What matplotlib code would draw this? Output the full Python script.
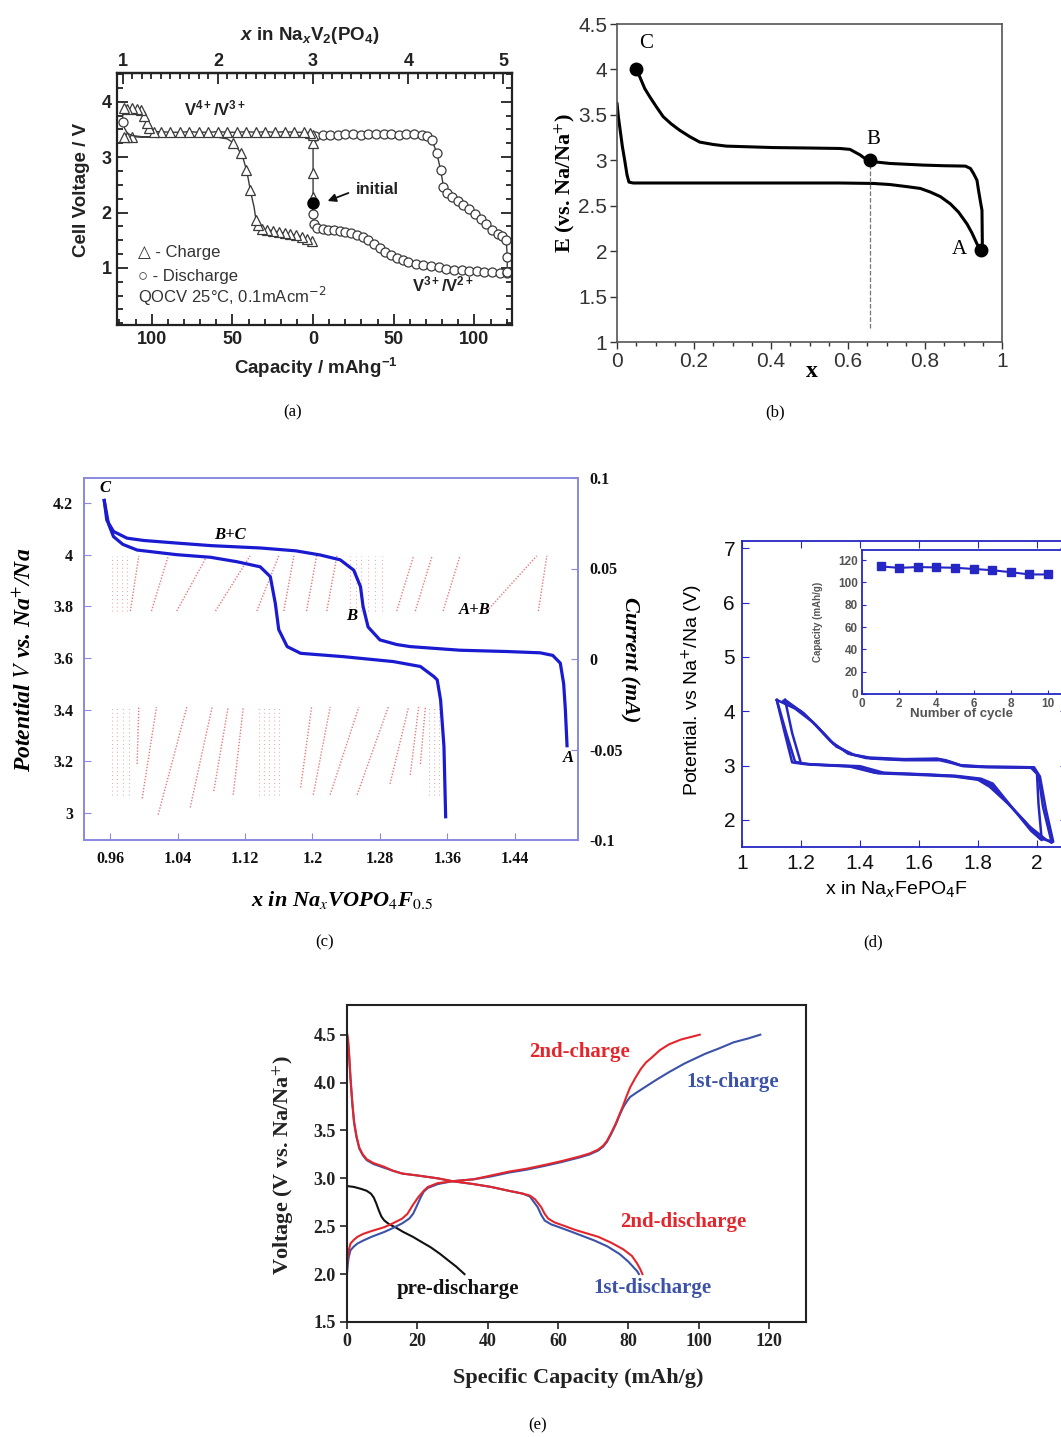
import numpy as np
import matplotlib.pyplot as plt
from matplotlib.ticker import MultipleLocator, FixedLocator

W, H = 1061, 1437
SANS = 'Liberation Sans'
SERIF = 'Liberation Serif'

plt.rcParams['font.family'] = SANS
plt.rcParams['mathtext.fontset'] = 'custom'
plt.rcParams['mathtext.rm'] = 'Liberation Sans:bold'
plt.rcParams['mathtext.it'] = 'Liberation Sans:italic:bold'
plt.rcParams['mathtext.bf'] = 'Liberation Sans:bold'

# ---------------- (a) NaxV2(PO4)3, x = Na content
a_chg1_x = [3.00, 3.00, 3.00, 3.00, 2.97, 2.90, 2.80, 2.70, 2.60, 2.50, 2.40, 2.30, 2.20, 2.10, 2.00,
            1.90, 1.80, 1.70, 1.60, 1.50, 1.40, 1.33, 1.28, 1.25, 1.22, 1.19, 1.15, 1.10, 1.05, 1.01]
a_chg1_v = [2.29, 2.71, 3.25, 3.40, 3.44, 3.45, 3.45, 3.46, 3.45, 3.46, 3.45, 3.46, 3.45, 3.45, 3.46,
            3.45, 3.45, 3.46, 3.45, 3.45, 3.46, 3.46, 3.52, 3.62, 3.75, 3.85, 3.87, 3.88, 3.87, 3.88]
a_dis1_x = [1.00, 1.00, 1.02, 1.05, 1.10, 1.20, 1.40, 1.60, 1.80, 2.00, 2.20, 2.40, 2.60, 2.80, 2.95,
            3.02, 3.10, 3.18, 3.26, 3.34, 3.42, 3.50, 3.58, 3.66, 3.74, 3.82, 3.90, 3.98, 4.06, 4.14,
            4.20, 4.25, 4.30, 4.34, 4.37, 4.41, 4.46, 4.52, 4.58, 4.64, 4.70, 4.76, 4.82, 4.88, 4.94,
            4.99, 5.03, 5.04, 5.04]
a_dis1_v = [3.88, 3.64, 3.52, 3.43, 3.39, 3.37, 3.37, 3.37, 3.37, 3.37, 3.37, 3.37, 3.37, 3.38, 3.38,
            3.39, 3.40, 3.40, 3.40, 3.41, 3.41, 3.40, 3.41, 3.41, 3.41, 3.41, 3.40, 3.41, 3.41, 3.40,
            3.38, 3.31, 3.07, 2.77, 2.47, 2.36, 2.28, 2.20, 2.13, 2.06, 1.98, 1.89, 1.79, 1.69, 1.62,
            1.58, 1.50, 1.20, 0.92]
a_dis2_x = [3.00, 3.00, 3.01, 3.04, 3.10, 3.16, 3.22, 3.28, 3.34, 3.40, 3.46, 3.52, 3.58, 3.64, 3.70,
            3.76, 3.82, 3.88, 3.94, 4.00, 4.08, 4.16, 4.24, 4.32, 4.40, 4.48, 4.56, 4.64, 4.72, 4.80,
            4.88, 4.96, 5.04]
a_dis2_v = [2.18, 1.98, 1.80, 1.72, 1.70, 1.69, 1.68, 1.67, 1.65, 1.63, 1.60, 1.56, 1.50, 1.43, 1.36,
            1.29, 1.23, 1.18, 1.14, 1.11, 1.07, 1.05, 1.03, 1.01, 0.99, 0.97, 0.96, 0.95, 0.94, 0.93,
            0.92, 0.91, 0.91]
a_chg2_x = [3.00, 2.99, 2.94, 2.88, 2.82, 2.76, 2.70, 2.64, 2.58, 2.52, 2.46, 2.42, 2.40, 2.38, 2.36,
            2.34, 2.32, 2.30, 2.27, 2.24, 2.20, 2.16, 2.10, 2.00, 1.80, 1.60, 1.40, 1.20, 1.10, 1.05, 1.01]
a_chg2_v = [1.45, 1.48, 1.52, 1.56, 1.59, 1.61, 1.63, 1.65, 1.67, 1.69, 1.71, 1.78, 1.87, 2.10, 2.25,
            2.41, 2.60, 2.77, 2.95, 3.07, 3.18, 3.26, 3.33, 3.36, 3.36, 3.36, 3.36, 3.36, 3.37, 3.37, 3.37]
a_init_x = [3.0]
a_init_v = [2.18]
a_cap_ticks = [100, 50, 0, 50, 100]
a_cap_side = [-1, -1, 0, 1, 1]
a_cap_per_x = 59.0

# ---------------- (b)
b_chg_x = [0.949, 0.948, 0.945, 0.939, 0.935, 0.926, 0.918, 0.905, 0.850, 0.796, 0.709, 0.675, 0.657,
           0.644, 0.631, 0.618, 0.605, 0.579, 0.500, 0.406, 0.284, 0.250, 0.215, 0.189, 0.163, 0.141,
           0.120, 0.102, 0.085, 0.072, 0.059, 0.050]
b_chg_v = [2.05, 2.45, 2.52, 2.67, 2.78, 2.855, 2.91, 2.936, 2.94, 2.947, 2.965, 2.98, 3.00,
           3.02, 3.06, 3.09, 3.12, 3.13, 3.135, 3.14, 3.156, 3.174, 3.20, 3.26, 3.33, 3.40,
           3.48, 3.59, 3.70, 3.79, 3.92, 4.00]
b_dis_x = [0.0, 0.0035, 0.007, 0.014, 0.020, 0.026, 0.031, 0.042, 0.300, 0.579, 0.666, 0.709, 0.753,
           0.788, 0.814, 0.840, 0.866, 0.887, 0.909, 0.922, 0.935, 0.945]
b_dis_v = [3.63, 3.48, 3.37, 3.15, 3.00, 2.84, 2.76, 2.75, 2.75, 2.75, 2.745, 2.733, 2.71,
           2.69, 2.65, 2.60, 2.52, 2.43, 2.30, 2.20, 2.08, 2.01]
b_pt_x = [0.945, 0.657, 0.050]
b_pt_v = [2.01, 3.00, 4.00]
b_dash_bottom = 1.15

# ---------------- (c)
c_up_x = [0.953, 0.956, 0.964, 0.980, 1.000, 1.039, 1.080, 1.138, 1.180, 1.209, 1.233, 1.249, 1.257,
          1.260, 1.266, 1.280, 1.300, 1.316, 1.375, 1.430, 1.470, 1.485, 1.494, 1.498, 1.500, 1.502]
c_up_v = [4.21, 4.134, 4.09, 4.064, 4.055, 4.045, 4.035, 4.026, 4.015, 3.999, 3.98, 3.94, 3.876,
          3.80, 3.72, 3.67, 3.652, 3.644, 3.63, 3.625, 3.62, 3.61, 3.58, 3.50, 3.40, 3.26]
c_lo_x = [0.953, 0.958, 0.964, 0.975, 0.992, 1.039, 1.079, 1.110, 1.138, 1.150, 1.156, 1.160, 1.170,
          1.186, 1.237, 1.296, 1.328, 1.344, 1.348, 1.352, 1.356, 1.358]
c_lo_v = [4.21, 4.12, 4.07, 4.04, 4.018, 4.0, 3.99, 3.973, 3.953, 3.915, 3.81, 3.71, 3.644,
          3.618, 3.605, 3.586, 3.567, 3.528, 3.515, 3.437, 3.257, 2.985]
# current transients (mA), start/end x of each relaxation
c_pos_x0 = [0.984, 1.009, 1.039, 1.085, 1.134, 1.166, 1.193, 1.217, 1.300, 1.322, 1.355, 1.407, 1.468]
c_pos_x1 = [0.994, 1.029, 1.075, 1.126, 1.160, 1.178, 1.205, 1.229, 1.320, 1.342, 1.375, 1.466, 1.478]
c_pos_i0 = 0.0265
c_pos_i1 = 0.057
c_neg_x0 = [0.992, 0.998, 1.017, 1.055, 1.083, 1.106, 1.186, 1.201, 1.221, 1.253, 1.292, 1.316, 1.328]
c_neg_x1 = [0.994, 1.015, 1.051, 1.081, 1.100, 1.118, 1.199, 1.221, 1.255, 1.290, 1.314, 1.326, 1.334]
c_neg_i0 = [-0.058, -0.077, -0.086, -0.082, -0.073, -0.075, -0.071, -0.075, -0.075, -0.075, -0.069,
            -0.064, -0.058]
c_neg_i1 = -0.0265
c_vert_pos = [0.962, 0.968, 0.974, 0.980, 1.245, 1.252, 1.258, 1.266, 1.274, 1.282]
c_vert_neg = [0.962, 0.968, 0.975, 0.982, 1.136, 1.142, 1.148, 1.154, 1.160, 1.338, 1.344, 1.350]
c_xticks = [0.96, 1.04, 1.12, 1.2, 1.28, 1.36, 1.44]
c_yticks = [3.0, 3.2, 3.4, 3.6, 3.8, 4.0, 4.2]
c_iticks = [-0.1, -0.05, 0, 0.05, 0.1]

# ---------------- (d)
d_loops_x = [
    [1.118, 1.15, 1.18, 1.23, 1.38, 1.46, 1.60, 1.72, 1.80, 1.84, 1.90, 1.96, 2.01, 2.055,
     2.03, 2.01, 1.99, 1.83, 1.74, 1.69, 1.66, 1.55, 1.43, 1.38, 1.32, 1.26, 1.21, 1.146],
    [1.146, 1.17, 1.20, 1.25, 1.40, 1.48, 1.62, 1.73, 1.81, 1.85, 1.92, 1.98, 2.016,
     2.005, 2.0, 1.98, 1.83, 1.75, 1.71, 1.67, 1.55, 1.44, 1.36, 1.30, 1.24, 1.18, 1.118],
    [1.118, 1.145, 1.17, 1.21, 1.36, 1.45, 1.60, 1.72, 1.80, 1.845, 1.91, 1.97, 2.03, 2.05,
     2.02, 2.005, 1.985, 1.82, 1.745, 1.70, 1.665, 1.54, 1.42, 1.37, 1.31, 1.25, 1.20, 1.14]]
d_loops_v = [
    [4.21, 3.60, 3.07, 3.02, 2.98, 2.86, 2.83, 2.80, 2.74, 2.61, 2.31, 1.97, 1.66, 1.60,
     2.20, 2.80, 2.97, 2.98, 3.01, 3.10, 3.13, 3.12, 3.15, 3.20, 3.35, 3.69, 3.96, 4.21],
    [4.21, 3.60, 3.04, 3.02, 2.99, 2.87, 2.84, 2.81, 2.76, 2.67, 2.20, 1.80, 1.63,
     2.30, 2.85, 2.96, 2.97, 2.99, 3.05, 3.10, 3.10, 3.13, 3.22, 3.45, 3.80, 4.05, 4.21],
    [4.20, 3.60, 3.06, 3.03, 2.99, 2.87, 2.84, 2.81, 2.75, 2.64, 2.26, 1.90, 1.64, 1.58,
     2.25, 2.82, 2.97, 2.98, 3.00, 3.08, 3.12, 3.11, 3.14, 3.21, 3.40, 3.75, 4.00, 4.19]]
d_cycle = [1, 2, 3, 4, 5, 6, 7, 8, 9, 10]
d_capacity = [114.3, 113.0, 113.7, 113.4, 113.1, 112.0, 110.9, 109.1, 107.1, 107.1]

# ---------------- (e)
e_pre_x = [0, 2, 4, 5.6, 6.8, 7.6, 8.3, 9.1, 9.8, 10.6, 12, 13.7, 16, 18.7, 21, 23.8, 26.5, 28.9, 31, 33.4]
e_pre_v = [2.92, 2.91, 2.89, 2.87, 2.84, 2.80, 2.74, 2.66, 2.60, 2.56, 2.52, 2.49, 2.44, 2.39, 2.34,
           2.28, 2.21, 2.14, 2.08, 2.0]
e_dis2_x = [0, 0.3, 0.6, 1, 1.5, 2, 2.7, 3.5, 4.5, 5.6, 7.5, 10.6, 13, 15.7, 20, 25.8, 30, 36, 41, 46,
            50, 52, 53.5, 55.2, 56.2, 57.2, 59, 61.3, 65, 71.4, 75, 78.5, 81, 82.5, 83.4, 84]
e_dis2_v = [4.52, 4.45, 4.30, 4.05, 3.80, 3.60, 3.44, 3.32, 3.25, 3.20, 3.16, 3.12, 3.08, 3.05, 3.03,
            3.00, 2.97, 2.94, 2.91, 2.87, 2.84, 2.82, 2.78, 2.70, 2.63, 2.58, 2.54, 2.51, 2.46, 2.39,
            2.33, 2.26, 2.19, 2.11, 2.05, 2.0]
e_dis1_x = [0, 0.3, 0.6, 1, 1.5, 2, 2.7, 3.5, 4.5, 5.6, 7.5, 10.6, 13, 15.7, 20, 25.8, 30, 36, 41, 46,
            50, 52, 53, 54.2, 55.2, 56.2, 58, 60.3, 64, 70.4, 74, 77.5, 80, 81.5, 82.5, 83]
e_dis1_v = [4.50, 4.43, 4.28, 4.03, 3.78, 3.58, 3.43, 3.31, 3.24, 3.19, 3.15, 3.11, 3.08, 3.05, 3.03,
            3.00, 2.97, 2.94, 2.91, 2.87, 2.84, 2.81, 2.76, 2.70, 2.62, 2.56, 2.52, 2.49, 2.44, 2.35,
            2.29, 2.21, 2.13, 2.07, 2.03, 2.0]
e_chg1_x = [0, 0.2, 0.5, 1, 2, 3, 4.6, 7, 10.6, 13, 15.7, 17.7, 18.8, 19.7, 20.8, 21.8, 23, 25.8, 30,
            36, 41, 46, 51, 56.2, 61, 66.3, 69, 71.4, 72.8, 73.9, 75.2, 76.5, 77.5, 78.5, 79.5, 80.5,
            82.5, 84.6, 88, 91.6, 96, 101.8, 106, 109.9, 114, 117.5]
e_chg1_v = [2.0, 2.1, 2.18, 2.25, 2.29, 2.32, 2.35, 2.39, 2.44, 2.48, 2.53, 2.58, 2.63, 2.70, 2.79,
            2.86, 2.90, 2.94, 2.97, 2.99, 3.02, 3.06, 3.09, 3.13, 3.17, 3.22, 3.25, 3.29, 3.33, 3.38,
            3.47, 3.57, 3.66, 3.74, 3.80, 3.85, 3.90, 3.95, 4.03, 4.11, 4.20, 4.30, 4.36, 4.42, 4.46, 4.50]
e_chg2_x = [0, 0.2, 0.5, 1, 2, 3, 4.6, 7, 10.6, 13, 15.7, 17.2, 18.7, 20.2, 21.8, 23, 25.8, 30, 36,
            41, 46, 51, 56.2, 61, 66.3, 69, 71.4, 72.8, 73.9, 75.2, 76.5, 77.5, 78.5, 79.5, 80.5, 82,
            83.5, 85, 86.6, 89, 91.6, 95, 100.3]
e_chg2_v = [2.05, 2.17, 2.25, 2.32, 2.36, 2.39, 2.42, 2.45, 2.49, 2.53, 2.58, 2.63, 2.72, 2.80, 2.87,
            2.91, 2.95, 2.97, 2.99, 3.03, 3.07, 3.10, 3.14, 3.18, 3.23, 3.26, 3.30, 3.34, 3.39, 3.48,
            3.58, 3.67, 3.76, 3.86, 3.95, 4.05, 4.14, 4.21, 4.26, 4.34, 4.40, 4.45, 4.50]

fig = plt.figure(figsize=(W / 100, H / 100), dpi=100)


def box(l, r, t, b):
    return fig.add_axes([l / W, 1 - b / H, (r - l) / W, (b - t) / H])


def ftext(px, py, s, **kw):
    kw.setdefault('ha', 'center')
    kw.setdefault('va', 'center')
    return fig.text(px / W, 1 - py / H, s, **kw)


# ======================= (a)
ax = box(117, 512, 73, 325)
ax.set_xlim(0.94, 5.09)
ax.set_ylim(-0.03, 4.52)
g = '#3a3a3a'
mk = dict(mfc='white', mec=g, ms=6.5, mew=0.9)
ax.plot(a_chg2_x, a_chg2_v, '-', color=g, lw=1.0, marker='^',
        markevery=list(range(1, 13)) + [15, 17, 19, 21, 28, 29, 30], **mk)
ax.plot(a_dis2_x, a_dis2_v, '-', color=g, lw=1.0, marker='o', markevery=list(range(1, len(a_dis2_x))), **mk)
ax.plot(a_dis1_x, a_dis1_v, '-', color=g, lw=1.0, marker='o', markevery=[1] + list(range(15, len(a_dis1_x))), **mk)
ax.plot(a_chg1_x, a_chg1_v, '-', color=g, lw=1.0, marker='^', **mk)
ax.plot(a_init_x, a_init_v, 'o', color='black', ms=8)

pos = [3 + s * c / a_cap_per_x for c, s in zip(a_cap_ticks, a_cap_side)]
ax.set_xticks(pos, labels=[str(c) for c in a_cap_ticks], fontweight='bold', fontsize=13)
minor = [3 - c / a_cap_per_x for c in range(10, 121, 10)] + [3 + c / a_cap_per_x for c in range(10, 121, 10)]
ax.xaxis.set_minor_locator(FixedLocator(minor))
ax.set_yticks([1, 2, 3, 4], labels=['1', '2', '3', '4'], fontweight='bold', fontsize=13)
ax.yaxis.set_minor_locator(MultipleLocator(0.25))
ax.tick_params(which='both', direction='in', right=True, width=1.3, colors='#222', pad=4)
ax.tick_params(which='major', length=8)
ax.tick_params(which='minor', length=4)
sec = ax.secondary_xaxis('top')
sec.set_xticks([1, 2, 3, 4, 5], labels=['1', '2', '3', '4', '5'], fontweight='bold', fontsize=13)
sec.xaxis.set_minor_locator(MultipleLocator(0.1))
sec.tick_params(which='both', direction='in', width=1.3, colors='#222', pad=2)
sec.tick_params(which='major', length=8)
sec.tick_params(which='minor', length=4)
for s in ax.spines.values():
    s.set_linewidth(1.6)
    s.set_color('#222')
sec.spines['top'].set_linewidth(1.6)

ftext(82, 190, 'Cell Voltage / V', rotation=90, fontsize=13.5, fontweight='bold', color='#222')
ftext(316, 368, 'Capacity / mAhg$^{-1}$', fontsize=13.5, fontweight='bold', color='#222', math_fontfamily='custom')
ftext(310, 35, '$x$ in Na$_x$V$_2$(PO$_4$)', fontsize=13.5, fontweight='bold', color='#222', math_fontfamily='custom')
ftext(215, 108, 'V$^{4+}$/V$^{3+}$', fontsize=12, fontweight='bold', color='#222', math_fontfamily='custom')
ftext(443, 284, 'V$^{3+}$/V$^{2+}$', fontsize=12, fontweight='bold', color='#222', math_fontfamily='custom')
ftext(377, 189, 'initial', fontsize=12, fontweight='bold', color='#222')
ax.annotate('', xy=(325 / W, 1 - 202 / H), xycoords='figure fraction',
            xytext=(351 / W, 1 - 192 / H), textcoords='figure fraction',
            arrowprops=dict(arrowstyle='-|>', color='#111', lw=1.3, mutation_scale=12))
ftext(138, 253, '\u25b3 - Charge', ha='left', fontsize=12, color='#333', family=[SANS, 'DejaVu Sans'])
ftext(138, 277, '\u25cb - Discharge', ha='left', fontsize=12, color='#333', family=[SANS, 'DejaVu Sans'])
ftext(138, 296, 'QOCV 25\u00b0C, 0.1mAcm$^{-2}$', ha='left', fontsize=12, color='#333', math_fontfamily='dejavusans')

# ======================= (b)
bx = box(617, 1002, 24, 342)
bx.set_xlim(0, 1)
bx.set_ylim(1, 4.5)
bx.plot(b_chg_x, b_chg_v, color='black', lw=2.2, solid_capstyle='round', solid_joinstyle='round')
bx.plot(b_dis_x, b_dis_v, color='black', lw=2.2, solid_capstyle='round', solid_joinstyle='round')
bx.plot([b_pt_x[1], b_pt_x[1]], [b_dash_bottom, b_pt_v[1]], ls='--', color='#777', lw=0.9)
bx.plot(b_pt_x, b_pt_v, 'o', color='black', ms=9)
bx.set_xticks([0, 0.2, 0.4, 0.6, 0.8, 1.0], labels=['0', '0.2', '0.4', '0.6', '0.8', '1'])
bx.xaxis.set_minor_locator(MultipleLocator(0.05))
bx.set_yticks([1, 1.5, 2, 2.5, 3, 3.5, 4, 4.5], labels=['1', '1.5', '2', '2.5', '3', '3.5', '4', '4.5'])
bx.tick_params(which='both', direction='out', labelsize=15, colors='#333', width=1, pad=2)
bx.tick_params(which='major', length=5)
bx.tick_params(which='minor', length=3)
for s in bx.spines.values():
    s.set_linewidth(1.2)
    s.set_color('#555')
ftext(565, 183, 'E (vs. Na/Na$^{+}$)', rotation=90, fontsize=16, fontweight='bold', family=SERIF, math_fontfamily='stix')
ftext(812, 371, 'x', fontsize=17, fontweight='bold', family=SERIF)
ftext(646, 43, 'C', fontsize=15, family=SERIF)
ftext(873, 140, 'B', fontsize=15, family=SERIF)
ftext(959, 249, 'A', fontsize=15, family=SERIF)

# ======================= (c)
lav = '#8a8ae0'
cx = box(84, 578, 478, 840)
cx.set_xlim(0.929, 1.515)
cx.set_ylim(2.895, 4.297)
cx2 = cx.twinx()
cx2.set_ylim(-0.1, 0.1)
red = '#e05a5a'
for x0, x1 in zip(c_pos_x0, c_pos_x1):
    cx2.plot([x0, x1], [c_pos_i0, c_pos_i1], ls=(0, (1, 1.2)), color=red, lw=1.0, alpha=0.8)
for x0, x1, i0 in zip(c_neg_x0, c_neg_x1, c_neg_i0):
    cx2.plot([x0, x1], [i0, c_neg_i1], ls=(0, (1, 1.2)), color=red, lw=1.0, alpha=0.8)
for xv in c_vert_pos:
    cx2.plot([xv, xv], [c_pos_i0, c_pos_i1], ls=(0, (1, 3)), color='#f0a0a0', lw=0.7)
for xv in c_vert_neg:
    cx2.plot([xv, xv], [-0.075, c_neg_i1], ls=(0, (1, 3)), color='#f0a0a0', lw=0.7)
cx.plot(c_up_x, c_up_v, color='#1a1ad0', lw=2.3)
cx.plot(c_lo_x, c_lo_v, color='#1a1ad0', lw=2.3)
cx.set_zorder(cx2.get_zorder() + 1)
cx.patch.set_visible(False)
cx.set_xticks(c_xticks, labels=['%g' % v for v in c_xticks], fontfamily=SERIF, fontweight='bold', fontsize=11.5)
cx.set_yticks(c_yticks, labels=['%g' % v for v in c_yticks], fontfamily=SERIF, fontweight='bold', fontsize=11.5)
cx2.set_yticks(c_iticks, labels=['%g' % v for v in c_iticks], fontfamily=SERIF, fontweight='bold', fontsize=11.5)
for a in (cx, cx2):
    a.tick_params(direction='in', length=5, color=lav, labelcolor='#111', pad=8)
    for s in a.spines.values():
        s.set_color(lav)
        s.set_linewidth(1.3)
ftext(25, 660, 'Potential $V$ vs. Na$^{+}$/Na', rotation=90, fontsize=17, fontweight='bold',
      fontstyle='italic', family=SERIF, math_fontfamily='stix')
ftext(342, 900, 'x in Na$_{x}$VOPO$_{\\mathit{4}}$F$_{\\mathit{0.5}}$', fontsize=16, fontweight='bold',
      fontstyle='italic', family=SERIF, math_fontfamily='stix')
ftext(630, 660, 'Current (mA)', rotation=-90, fontsize=16, fontweight='bold', fontstyle='italic', family=SERIF)
for px, py, s in [(105, 488, 'C'), (230, 535, 'B+C'), (352, 616, 'B'), (475, 610, 'A+B'), (568, 758, 'A')]:
    ftext(px, py, s, fontsize=12, fontweight='bold', fontstyle='italic', family=SERIF)

# ======================= (d)
blue = '#2626c4'
dx = box(742, 1066.5, 541, 847)
dx.set_xlim(1, 2.1)
dx.set_ylim(1.503, 7.134)
for lx, lv in zip(d_loops_x, d_loops_v):
    dx.plot(lx, lv, color=blue, lw=1.8)
dx.set_xticks([1, 1.2, 1.4, 1.6, 1.8, 2.0], labels=['1', '1.2', '1.4', '1.6', '1.8', '2'])
dx.set_yticks([2, 3, 4, 5, 6, 7], labels=['2', '3', '4', '5', '6', '7'])
dx.tick_params(direction='in', length=5, color=blue, labelsize=15, labelcolor='#111', top=True, right=True, pad=5)
for s in dx.spines.values():
    s.set_color(blue)
    s.set_linewidth(1.3)
ftext(692, 690, 'Potential. vs Na$^{+}$/Na (V)', rotation=90, fontsize=14, math_fontfamily='dejavusans')
ftext(897, 890, 'x in Na$_{x}$FePO$_{4}$F', fontsize=14, math_fontfamily='dejavusans')

ix = box(862, 1070, 550, 694)
ix.set_xlim(0, 11.18)
ix.set_ylim(0, 129)
ix.plot(d_cycle, d_capacity, color=blue, lw=1.5, marker='s', ms=6)
ix.set_xticks([0, 2, 4, 6, 8, 10], labels=['0', '2', '4', '6', '8', '10'])
ix.set_yticks([0, 20, 40, 60, 80, 100, 120], labels=['0', '20', '40', '60', '80', '100', '120'])
ix.tick_params(direction='in', length=3, color=blue, labelsize=8.5, labelcolor='#555', pad=3)
for lab in ix.get_xticklabels() + ix.get_yticklabels():
    lab.set_fontweight('bold')
for s in ix.spines.values():
    s.set_color(blue)
    s.set_linewidth(1.3)
ftext(818, 622, 'Capacity (mAh/g)', rotation=90, fontsize=7, fontweight='bold', color='#555')
ftext(962, 714, 'Number of cycle', fontsize=9.5, fontweight='bold', color='#555')

# ======================= (e)
er = '#e3262c'
eb = '#3b52a8'
ex = box(347, 806, 1005, 1322)
ex.set_xlim(0, 130.5)
ex.set_ylim(1.5, 4.81)
ex.plot(e_pre_x, e_pre_v, color='#111', lw=1.5)
ex.plot(e_dis1_x, e_dis1_v, color=eb, lw=1.5)
ex.plot(e_chg1_x, e_chg1_v, color=eb, lw=1.5)
ex.plot(e_dis2_x, e_dis2_v, color=er, lw=1.5)
ex.plot(e_chg2_x, e_chg2_v, color=er, lw=1.5)
e_xt = [0, 20, 40, 60, 80, 100, 120]
e_yt = [1.5, 2.0, 2.5, 3.0, 3.5, 4.0, 4.5]
ex.set_xticks(e_xt, labels=[str(v) for v in e_xt], fontfamily=SERIF, fontweight='bold', fontsize=13)
ex.set_yticks(e_yt, labels=['%.1f' % v for v in e_yt], fontfamily=SERIF, fontweight='bold', fontsize=13)
ex.tick_params(direction='out', length=5, width=1.2, colors='#222', pad=3)
for s in ex.spines.values():
    s.set_linewidth(1.5)
    s.set_color('#222')
ftext(283, 1165, 'Voltage (V vs. Na/Na$^{+}$)', rotation=90, fontsize=16, fontweight='bold', family=SERIF,
      math_fontfamily='stix', color='#222')
ftext(578, 1378, 'Specific Capacity (mAh/g)', fontsize=16, fontweight='bold', family=SERIF, color='#222')
ftext(580, 1052, '2nd-charge', fontsize=15, fontweight='bold', family=SERIF, color=er)
ftext(733, 1082, '1st-charge', fontsize=15, fontweight='bold', family=SERIF, color=eb)
ftext(683, 1222, '2nd-discharge', fontsize=15, fontweight='bold', family=SERIF, color=er)
ftext(652, 1288, '1st-discharge', fontsize=15, fontweight='bold', family=SERIF, color=eb)
ftext(458, 1289, 'pre-discharge', fontsize=15, fontweight='bold', family=SERIF, color='#111')

# panel letters
for px, py, s in [(293, 412, '(a)'), (775, 412, '(b)'), (325, 942, '(c)'), (873, 942, '(d)'), (538, 1425, '(e)')]:
    ftext(px, py, s, fontsize=12, family=SERIF)

fig.savefig('out.png', dpi=100)
